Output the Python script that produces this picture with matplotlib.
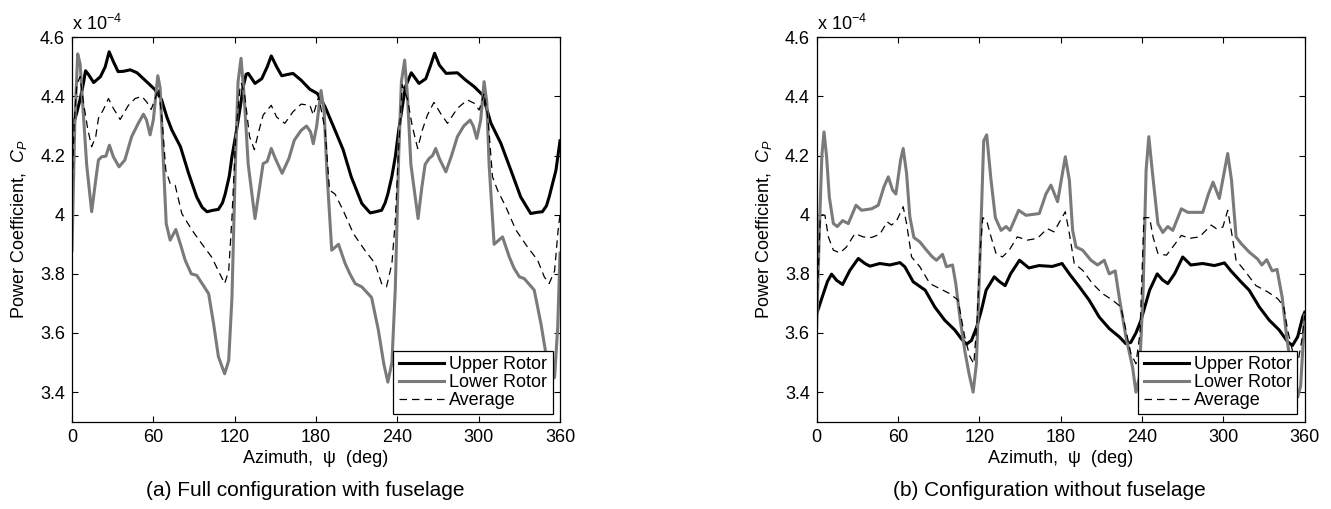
import numpy as np
import matplotlib
matplotlib.use("Agg")
import matplotlib.pyplot as plt

plt.rcParams['font.family'] = ['Liberation Sans', 'DejaVu Sans']
plt.rcParams['mathtext.fontset'] = 'custom'
plt.rcParams['mathtext.rm'] = 'Liberation Sans'
plt.rcParams['mathtext.it'] = 'Liberation Sans:italic'

# power coefficient in units of 1e-4, (azimuth deg, Cp)
# (a) full configuration with fuselage
upper_a = [(0, 4.29), (3.4, 4.343), (6, 4.39), (8.4, 4.444), (10, 4.487), (12, 4.475), (16, 4.447),
           (21, 4.467), (24.5, 4.50), (27.4, 4.551), (30.5, 4.518), (34, 4.484), (38, 4.485), (43, 4.49),
           (48, 4.48), (55, 4.45), (61, 4.424), (66, 4.39), (70, 4.33), (73.7, 4.286), (80, 4.23),
           (86, 4.14), (92, 4.06), (96, 4.025), (99.6, 4.01), (104, 4.015), (108, 4.018), (111, 4.04),
           (113, 4.07), (116, 4.13), (118, 4.196), (121.4, 4.286), (124, 4.36), (126.3, 4.433),
           (128.5, 4.475), (130, 4.478), (135, 4.444), (140, 4.46), (144, 4.50), (147, 4.537),
           (151, 4.50), (154.7, 4.47), (163, 4.478), (169, 4.455), (175.5, 4.424), (181, 4.41),
           (186.7, 4.365), (194, 4.286), (200, 4.22), (206, 4.128), (213.8, 4.038), (220, 4.006),
           (224, 4.01), (228.4, 4.015), (231, 4.04), (233, 4.07), (236, 4.13), (238.5, 4.196),
           (241, 4.286), (243.5, 4.36), (246, 4.433), (250.3, 4.48), (256, 4.444), (261, 4.46),
           (264.6, 4.506), (267.5, 4.546), (271, 4.506), (276, 4.478), (284.3, 4.48), (290.5, 4.455),
           (296.7, 4.433), (302.9, 4.405), (309, 4.31), (316.4, 4.241), (323.8, 4.15), (331, 4.06),
           (338.4, 4.004), (343, 4.008), (347, 4.01), (350, 4.03), (352, 4.06), (357, 4.15), (360, 4.25)]

lower_a = [(0, 3.88), (2, 4.30), (4.2, 4.544), (6, 4.51), (8.4, 4.34), (10.8, 4.17), (14.5, 4.01),
           (17.5, 4.117), (19.5, 4.185), (22, 4.196), (25, 4.198), (27.6, 4.235), (30.5, 4.196),
           (34.7, 4.162), (39, 4.185), (44, 4.264), (49, 4.31), (52.7, 4.34), (55, 4.32), (57.6, 4.27),
           (60, 4.32), (63.3, 4.47), (65, 4.43), (67.5, 4.17), (69.5, 3.97), (72.4, 3.914), (76.6, 3.95),
           (80, 3.90), (83.5, 3.846), (88, 3.80), (92, 3.795), (96, 3.767), (100.8, 3.733), (104.5, 3.63),
           (108, 3.52), (112.6, 3.462), (115.6, 3.507), (118, 3.72), (120.5, 4.17), (122.5, 4.45),
           (124.7, 4.529), (127, 4.40), (130, 4.17), (135, 3.987), (138, 4.08), (141, 4.173), (144, 4.18),
           (147, 4.224), (150, 4.19), (155, 4.14), (160, 4.19), (164, 4.252), (169, 4.285), (173, 4.30),
           (176, 4.28), (178, 4.24), (180.5, 4.30), (183.7, 4.42), (186, 4.35), (188, 4.15), (191.6, 3.88),
           (196.6, 3.90), (201.5, 3.835), (205, 3.80), (208.9, 3.767), (213.8, 3.756), (221, 3.72),
           (226, 3.61), (230, 3.496), (233, 3.434), (236, 3.50), (238.5, 3.75), (241, 4.20), (243, 4.45),
           (245.4, 4.523), (247.5, 4.40), (250, 4.17), (255.3, 3.987), (258, 4.09), (260.5, 4.17),
           (263.4, 4.19), (266, 4.20), (268.3, 4.224), (271, 4.19), (275.8, 4.145), (280, 4.20),
           (284.3, 4.264), (289, 4.30), (293.7, 4.32), (296, 4.30), (298.6, 4.258), (301.5, 4.32),
           (304, 4.45), (306, 4.38), (307.7, 4.17), (311.4, 3.90), (317.6, 3.925), (322.6, 3.857),
           (326, 3.82), (330, 3.79), (333.6, 3.784), (341, 3.745), (346, 3.63), (349.6, 3.53),
           (353, 3.44), (356, 3.45), (358.3, 3.62), (360, 3.87)]

avg_a = [(0, 4.07), (1.5, 4.30), (3.5, 4.44), (6, 4.467), (8.4, 4.38), (11.6, 4.29), (14.5, 4.23),
         (17.5, 4.264), (19.5, 4.326), (23, 4.354), (26.9, 4.393), (30.5, 4.36), (35.5, 4.322),
         (41.6, 4.37), (46.6, 4.393), (51.5, 4.40), (55, 4.382), (58.4, 4.356), (61.4, 4.393),
         (63.8, 4.427), (66.3, 4.33), (69.2, 4.15), (72.4, 4.106), (76.1, 4.10), (81, 4.004),
         (88.5, 3.948), (96, 3.90), (103, 3.857), (108, 3.81), (112.6, 3.767), (115.6, 3.81),
         (118, 3.99), (121, 4.286), (124, 4.433), (125, 4.444), (127.5, 4.40), (131, 4.264),
         (134.5, 4.22), (138, 4.286), (141, 4.337), (147, 4.37), (151, 4.33), (157, 4.309),
         (163, 4.348), (169, 4.374), (175.5, 4.37), (178, 4.337), (182, 4.40), (186.7, 4.286),
         (190, 4.083), (194, 4.07), (200, 4.015), (207.6, 3.936), (216, 3.88), (223.6, 3.835),
         (228.4, 3.767), (232, 3.756), (236, 3.835), (238.5, 3.98), (241, 4.23), (243.6, 4.44),
         (247.5, 4.39), (251, 4.30), (255, 4.224), (258.4, 4.286), (262.2, 4.337), (267, 4.38),
         (272, 4.342), (277, 4.309), (284.3, 4.36), (291.7, 4.388), (296.7, 4.377), (300.4, 4.354),
         (304, 4.41), (307, 4.32), (310.2, 4.128), (313.9, 4.083), (320, 4.027), (327.5, 3.948),
         (336, 3.891), (343.5, 3.846), (348.4, 3.79), (352, 3.767), (356, 3.81), (358.6, 3.948),
         (360, 4.0)]

# (b) configuration without fuselage
upper_b = [(0, 3.665), (4.9, 3.733), (8, 3.775), (11, 3.799), (14.7, 3.778), (19.1, 3.764),
           (24.5, 3.812), (30.7, 3.852), (35.6, 3.835), (39.3, 3.826), (46.6, 3.835), (54, 3.83),
           (61.4, 3.838), (65, 3.824), (71.2, 3.773), (80, 3.745), (87.1, 3.688), (94.5, 3.643),
           (101.9, 3.61), (106.8, 3.58), (110.5, 3.562), (114.2, 3.575), (118, 3.62), (121.5, 3.677),
           (125, 3.745), (131, 3.79), (134.5, 3.775), (139, 3.76), (143, 3.80), (149.6, 3.846),
           (156.5, 3.82), (164, 3.828), (173.8, 3.825), (181, 3.835), (186.4, 3.80), (193.8, 3.756),
           (201, 3.711), (208.4, 3.654), (215.8, 3.615), (223.2, 3.587), (228, 3.564), (231.7, 3.568),
           (235.5, 3.60), (239.2, 3.643), (245.6, 3.745), (251.2, 3.80), (255, 3.78), (259, 3.767),
           (264, 3.80), (270, 3.857), (276, 3.83), (284.8, 3.835), (293.4, 3.828), (300.8, 3.837),
           (305.6, 3.81), (313, 3.773), (319, 3.745), (326.5, 3.688), (333.9, 3.643), (341.2, 3.61),
           (347.4, 3.57), (351, 3.558), (354.8, 3.587), (358.5, 3.654), (360, 3.67)]

lower_b = [(0, 3.62), (2, 3.95), (3.8, 4.20), (5.4, 4.28), (7.3, 4.196), (9.3, 4.06), (12.3, 3.97),
           (15.2, 3.96), (19.1, 3.98), (23.3, 3.97), (29, 4.032), (33.1, 4.015), (40.5, 4.02),
           (45.4, 4.032), (49.6, 4.094), (52.8, 4.128), (56, 4.083), (58.4, 4.07), (61.9, 4.185),
           (63.8, 4.224), (66.3, 4.14), (68.7, 3.993), (71.7, 3.923), (76.1, 3.908), (81, 3.88),
           (85.4, 3.857), (88.4, 3.846), (92.8, 3.866), (95.7, 3.824), (100.2, 3.83), (102.6, 3.767),
           (105.6, 3.654), (109.2, 3.541), (112.4, 3.462), (115.4, 3.40), (117.8, 3.496), (120.3, 3.835),
           (123.2, 4.25), (125.4, 4.27), (128.6, 4.117), (131.8, 3.99), (136, 3.947), (139.7, 3.96),
           (142.6, 3.947), (149, 4.015), (154.4, 3.998), (164.2, 4.004), (169.1, 4.07), (172.8, 4.10),
           (177.7, 4.044), (183.4, 4.196), (186.4, 4.117), (188.8, 3.947), (191.3, 3.891), (196.2, 3.88),
           (202.3, 3.846), (207.2, 3.83), (212.1, 3.846), (215.8, 3.80), (220.2, 3.81), (223.2, 3.72),
           (228.1, 3.587), (233, 3.485), (235.5, 3.40), (238, 3.45), (240.8, 3.744), (243, 4.15),
           (245, 4.264), (247.5, 4.15), (251.7, 3.97), (255.3, 3.94), (259, 3.96), (262.7, 3.947),
           (269, 4.02), (273.8, 4.008), (284.8, 4.008), (289, 4.07), (292.4, 4.11), (297, 4.055),
           (303.2, 4.207), (306, 4.117), (309.4, 3.925), (313, 3.903), (319, 3.874), (325.3, 3.85),
           (328.4, 3.83), (332, 3.848), (336, 3.81), (339.6, 3.815), (343.4, 3.72), (346.7, 3.587),
           (351, 3.45), (354.8, 3.383), (357, 3.42), (360, 3.66)]

avg_b = [(0, 3.66), (2.5, 3.98), (4, 4.0), (6.1, 3.998), (8.6, 3.925), (12.3, 3.88), (17.2, 3.871),
         (22, 3.891), (28.2, 3.936), (34.3, 3.925), (40.5, 3.923), (46.6, 3.934), (52, 3.976),
         (55.2, 3.965), (59, 3.98), (63.8, 4.027), (66.3, 3.97), (70, 3.857), (76.1, 3.824),
         (83.5, 3.767), (90.8, 3.75), (98.2, 3.733), (104.3, 3.711), (109.2, 3.587), (113, 3.52),
         (115.9, 3.496), (118.3, 3.643), (120.8, 3.89), (122.5, 3.99), (125.4, 3.98), (128.6, 3.925),
         (132.3, 3.869), (137, 3.857), (142, 3.88), (148, 3.925), (155.4, 3.914), (162.8, 3.92),
         (170.1, 3.953), (175, 3.942), (179.2, 3.976), (183.4, 4.01), (186.4, 3.936), (190, 3.835),
         (196.2, 3.812), (203.5, 3.767), (210.9, 3.733), (218.3, 3.711), (224.4, 3.688), (228.1, 3.61),
         (231.8, 3.53), (235.5, 3.496), (238.5, 3.60), (241.4, 3.99), (245.6, 3.99), (248.1, 3.925),
         (251.7, 3.869), (258, 3.863), (262.7, 3.891), (269, 3.93), (275, 3.92), (282.4, 3.925),
         (291, 3.965), (294.7, 3.953), (299.6, 3.958), (303.2, 4.015), (306.2, 3.936), (309.4, 3.846),
         (315.5, 3.812), (324.1, 3.76), (332.7, 3.739), (340.1, 3.716), (344.5, 3.69), (347.4, 3.61),
         (351, 3.54), (355, 3.50), (358, 3.58), (360, 3.66)]

x_ticks = [0, 60, 120, 180, 240, 300, 360]
y_ticks = [3.4, 3.6, 3.8, 4.0, 4.2, 4.4, 4.6]
captions = ['(a) Full configuration with fuselage', '(b) Configuration without fuselage']

W, H = 1331, 509
fig = plt.figure(figsize=(W / 100, H / 100), dpi=100)

panels = [(upper_a, lower_a, avg_a, 72), (upper_b, lower_b, avg_b, 816.7)]
for i, (up, lo, av, left) in enumerate(panels):
    ax = fig.add_axes([left / W, (H - 421.7) / H, 488 / W, (421.7 - 37.3) / H])
    for data, kw in [(up, dict(color='black', lw=2.2, label='Upper Rotor')),
                     (lo, dict(color='0.48', lw=2.2, label='Lower Rotor')),
                     (av, dict(color='black', lw=0.9, ls=(0, (6, 4)), label='Average'))]:
        psi, cp = np.array(data).T
        ax.plot(psi, cp, **kw)
    ax.set_xlim(0, 360)
    ax.set_ylim(3.3, 4.6)
    ax.set_xticks(x_ticks)
    ax.set_yticks(y_ticks)
    ax.set_yticklabels(['%g' % v for v in y_ticks])
    ax.tick_params(direction='in', length=4, width=0.8, top=True, right=True,
                   labelsize=13, pad=5)
    for s in ax.spines.values():
        s.set_linewidth(0.9)
    ax.set_xlabel('Azimuth,  \u03c8  (deg)', fontsize=13, labelpad=3)
    ax.set_ylabel(r'Power Coefficient,  $C_P$', fontsize=13, labelpad=8)
    ax.text(0, 1.008, r'x 10$^{-4}$', transform=ax.transAxes, fontsize=13,
            ha='left', va='bottom')
    leg = ax.legend(loc='lower right', fontsize=13, frameon=True, fancybox=False,
                    edgecolor='black', framealpha=1, handlelength=2.5, handletextpad=0.3,
                    borderpad=0.3, labelspacing=0.05, borderaxespad=0.4)
    leg.get_frame().set_linewidth(0.9)
    fig.text((left + 233) / W, 1 - 491 / H, captions[i], fontsize=15, ha='center', va='center')

fig.savefig('out.png', dpi=100)
